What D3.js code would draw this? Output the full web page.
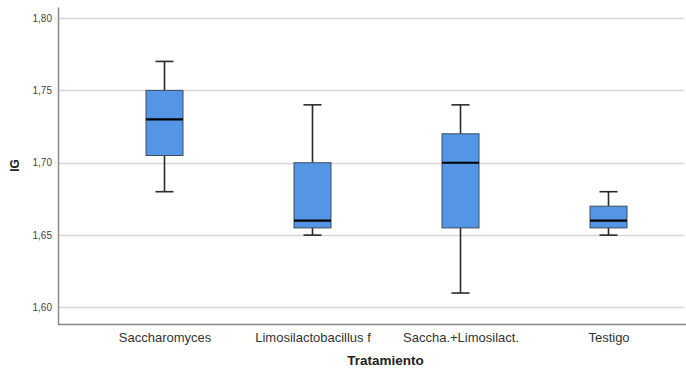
<!DOCTYPE html>
<html>
<head>
<meta charset="utf-8">
<script src="https://cdn.jsdelivr.net/npm/d3@7"></script>
<style>
  body { margin: 0; background: #fff; }
  svg { display: block; font-family: "Liberation Sans", Arial, sans-serif; }
</style>
</head>
<body>
<div id="chart"></div>
<script>
// Data
const categories = ["Saccharomyces", "Limosilactobacillus f", "Saccha.+Limosilact.", "Testigo"];
const mins      = [1.680, 1.650, 1.610, 1.650];
const q1s       = [1.705, 1.655, 1.655, 1.655];
const medians   = [1.730, 1.660, 1.700, 1.660];
const q3s       = [1.750, 1.700, 1.720, 1.670];
const maxs      = [1.770, 1.740, 1.740, 1.680];
const yTicks    = [1.60, 1.65, 1.70, 1.75, 1.80];

// Configuration
const config = {
    width: 686,
    height: 369,
    plot: { left: 58, right: 684, top: 7, bottom: 324 },
    catRange: [164.5, 608.5],
    boxWidth: 37,
    capWidth: 18,
    colors: {
        box: "#5495e5",
        boxStroke: "#3e4c5c",
        whisker: "#2b2b2b",
        grid: "#d6d6d6",
        axis: "#8a8a8a",
        text: "#333"
    }
};

const boxes = categories.map((c, i) => ({
    cat: c, min: mins[i], q1: q1s[i], med: medians[i], q3: q3s[i], max: maxs[i]
}));

const svg = d3.select("#chart").append("svg")
    .attr("width", config.width)
    .attr("height", config.height);

const x = d3.scalePoint()
    .domain(categories)
    .range(config.catRange);

const y = d3.scaleLinear()
    .domain([1.5886, 1.8076])
    .range([config.plot.bottom, config.plot.top]);

// Grid lines
svg.append("g")
    .selectAll("line")
    .data(yTicks)
    .join("line")
    .attr("x1", config.plot.left)
    .attr("x2", config.plot.right)
    .attr("y1", d => Math.round(y(d)) + 0.5)
    .attr("y2", d => Math.round(y(d)) + 0.5)
    .attr("stroke", config.colors.grid)
    .attr("stroke-width", 1.5);

// Y axis
const yAxis = svg.append("g")
    .attr("transform", `translate(${config.plot.left},0)`)
    .call(d3.axisLeft(y).tickValues(yTicks).tickSize(0).tickPadding(6)
        .tickFormat(d => d3.format(".2f")(d).replace(".", ",")));
yAxis.select(".domain").attr("stroke", config.colors.axis).attr("stroke-width", 1.5);
yAxis.selectAll("text")
    .attr("font-size", 10)
    .attr("fill", "#444")
    .attr("font-family", "Liberation Sans, Arial, sans-serif");

// X axis
const xAxis = svg.append("g")
    .attr("transform", `translate(0,${config.plot.bottom})`)
    .call(d3.axisBottom(x).tickSize(0).tickPadding(8.5));
xAxis.select(".domain")
    .attr("d", `M${config.plot.left},0.5H${config.width}`)
    .attr("stroke", config.colors.axis)
    .attr("stroke-width", 1.5);
xAxis.selectAll("text")
    .attr("font-size", 13)
    .attr("fill", config.colors.text)
    .attr("font-family", "Liberation Sans, Arial, sans-serif");

// Boxplots
const g = svg.append("g")
    .selectAll("g")
    .data(boxes)
    .join("g")
    .attr("transform", d => `translate(${x(d.cat)},0)`);

// whiskers
g.append("line")
    .attr("y1", d => y(d.max)).attr("y2", d => y(d.q3))
    .attr("stroke", config.colors.whisker).attr("stroke-width", 1.6);
g.append("line")
    .attr("y1", d => y(d.q1)).attr("y2", d => y(d.min))
    .attr("stroke", config.colors.whisker).attr("stroke-width", 1.6);
g.append("line")
    .attr("x1", -config.capWidth / 2).attr("x2", config.capWidth / 2)
    .attr("y1", d => y(d.max)).attr("y2", d => y(d.max))
    .attr("stroke", config.colors.whisker).attr("stroke-width", 1.6);
g.append("line")
    .attr("x1", -config.capWidth / 2).attr("x2", config.capWidth / 2)
    .attr("y1", d => y(d.min)).attr("y2", d => y(d.min))
    .attr("stroke", config.colors.whisker).attr("stroke-width", 1.6);

// box
g.append("rect")
    .attr("x", -config.boxWidth / 2)
    .attr("width", config.boxWidth)
    .attr("y", d => y(d.q3))
    .attr("height", d => y(d.q1) - y(d.q3))
    .attr("fill", config.colors.box)
    .attr("stroke", config.colors.boxStroke)
    .attr("stroke-width", 1);

// median
g.append("line")
    .attr("x1", -config.boxWidth / 2).attr("x2", config.boxWidth / 2)
    .attr("y1", d => y(d.med)).attr("y2", d => y(d.med))
    .attr("stroke", "#000").attr("stroke-width", 2.2);

// Axis titles
svg.append("text")
    .attr("transform", `translate(19,${(config.plot.top + config.plot.bottom) / 2}) rotate(-90)`)
    .attr("text-anchor", "middle")
    .attr("font-size", 12)
    .attr("font-weight", "bold")
    .attr("fill", "#222")
    .text("IG");

svg.append("text")
    .attr("x", 385.5)
    .attr("y", 365)
    .attr("text-anchor", "middle")
    .attr("font-size", 13.5)
    .attr("font-weight", "bold")
    .attr("fill", "#222")
    .text("Tratamiento");
</script>
</body>
</html>
